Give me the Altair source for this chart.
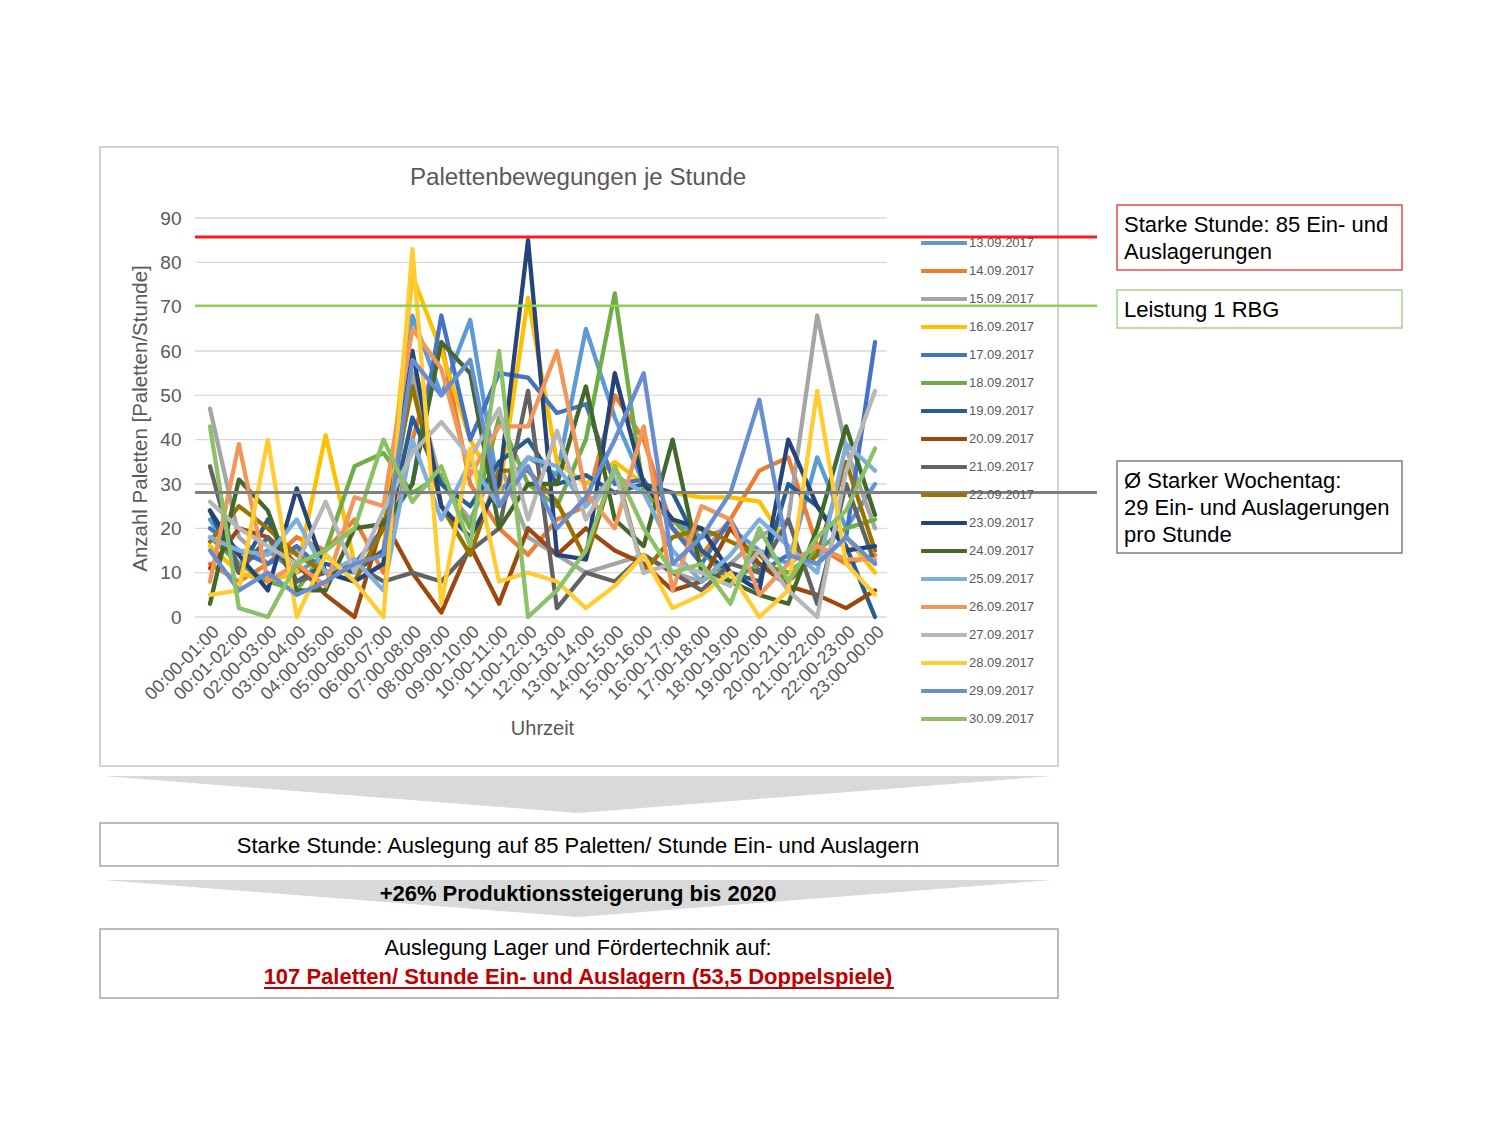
import altair as alt
import pandas as pd

FONT = "Liberation Sans, Arial, sans-serif"
GRAY_TXT = "#595959"

hours = ["00:00-01:00", "00:01-02:00", "02:00-03:00", "03:00-04:00", "04:00-05:00",
         "05:00-06:00", "06:00-07:00", "07:00-08:00", "08:00-09:00", "09:00-10:00",
         "10:00-11:00", "11:00-12:00", "12:00-13:00", "13:00-14:00", "14:00-15:00",
         "15:00-16:00", "16:00-17:00", "17:00-18:00", "18:00-19:00", "19:00-20:00",
         "20:00-21:00", "21:00-22:00", "22:00-23:00", "23:00-00:00"]

dates = ["13.09.2017", "14.09.2017", "15.09.2017", "16.09.2017", "17.09.2017",
         "18.09.2017", "19.09.2017", "20.09.2017", "21.09.2017", "22.09.2017",
         "23.09.2017", "24.09.2017", "25.09.2017", "26.09.2017", "27.09.2017",
         "28.09.2017", "29.09.2017", "30.09.2017"]

colors = ["#5B9BD5", "#ED7D31", "#A5A5A5", "#FFC000", "#4472C4", "#70AD47",
          "#255E91", "#9E480E", "#636363", "#997300", "#264478", "#43682B",
          "#7CAFDD", "#F1975A", "#B7B7B7", "#FFCD33", "#698ED0", "#8CC168"]

s_13 = [22, 12, 15, 10, 14, 8, 12, 68, 50, 67, 28, 36, 32, 65, 45, 30, 22, 18, 20, 15, 12, 36, 20, 30]
s_14 = [12, 8, 12, 18, 15, 22, 10, 40, 62, 30, 20, 14, 22, 25, 50, 40, 20, 14, 22, 33, 36, 16, 12, 14]
s_15 = [47, 18, 12, 15, 10, 8, 12, 55, 30, 22, 35, 18, 14, 10, 12, 14, 10, 8, 12, 18, 22, 68, 38, 20]
s_16 = [16, 10, 8, 10, 41, 12, 15, 77, 60, 40, 28, 72, 35, 30, 35, 30, 28, 27, 27, 26, 16, 12, 18, 10]
s_17 = [20, 15, 12, 16, 10, 12, 20, 30, 68, 40, 55, 54, 46, 48, 30, 31, 20, 12, 22, 10, 14, 12, 18, 62]
s_18 = [18, 12, 8, 6, 15, 34, 37, 28, 32, 20, 45, 30, 25, 40, 73, 28, 22, 15, 8, 12, 10, 15, 20, 22]
s_19 = [24, 10, 22, 8, 12, 10, 15, 45, 30, 25, 35, 40, 30, 32, 28, 30, 28, 15, 10, 8, 30, 25, 16, 0]
s_20 = [11, 20, 18, 12, 5, 0, 22, 10, 1, 16, 3, 20, 14, 20, 15, 12, 6, 8, 20, 12, 7, 5, 2, 6]
s_21 = [34, 10, 18, 8, 10, 12, 8, 10, 8, 15, 20, 51, 2, 10, 8, 14, 10, 6, 12, 10, 22, 3, 30, 12]
s_22 = [17, 25, 20, 14, 10, 8, 20, 52, 25, 14, 33, 33, 26, 13, 34, 10, 18, 20, 17, 14, 8, 14, 35, 15]
s_23 = [24, 14, 6, 29, 10, 8, 12, 60, 25, 18, 30, 85, 14, 13, 55, 30, 22, 20, 10, 6, 40, 25, 15, 16]
s_24 = [3, 31, 24, 6, 6, 20, 21, 30, 62, 55, 20, 30, 30, 52, 22, 16, 40, 10, 8, 5, 3, 20, 43, 23]
s_25 = [18, 15, 14, 22, 10, 13, 6, 40, 22, 35, 25, 36, 34, 25, 32, 28, 15, 8, 14, 22, 16, 10, 39, 33]
s_26 = [8, 39, 8, 12, 7, 27, 25, 65, 56, 32, 43, 43, 60, 28, 20, 43, 6, 25, 22, 5, 12, 16, 13, 13]
s_27 = [26, 20, 16, 12, 26, 10, 24, 37, 44, 36, 47, 22, 42, 22, 33, 10, 12, 10, 7, 15, 6, 0, 33, 51]
s_28 = [5, 6, 40, 0, 14, 8, 0, 83, 3, 38, 8, 10, 8, 2, 7, 14, 2, 5, 10, 0, 6, 51, 12, 5]
s_29 = [15, 6, 10, 5, 8, 12, 14, 58, 50, 58, 25, 34, 20, 27, 40, 55, 12, 18, 28, 49, 14, 12, 18, 12]
s_30 = [43, 2, 0, 12, 15, 20, 40, 26, 34, 16, 60, 0, 6, 15, 34, 20, 10, 12, 3, 20, 8, 18, 24, 38]

series = [s_13, s_14, s_15, s_16, s_17, s_18, s_19, s_20, s_21, s_22, s_23, s_24,
          s_25, s_26, s_27, s_28, s_29, s_30]

ref_values = [85.7, 70.2, 28.1]          # starke Stunde, Leistung 1 RBG, Ø starker Wochentag
grid_values = [0, 10, 20, 30, 40, 50, 60, 70, 80, 90]

title_text = "Palettenbewegungen je Stunde"
y_title = "Anzahl Paletten [Paletten/Stunde]"
x_title = "Uhrzeit"
box_red_lines = ["Starke Stunde: 85 Ein- und", "Auslagerungen"]
box_green_lines = ["Leistung 1 RBG"]
box_gray_lines = ["Ø Starker Wochentag:", "29 Ein- und Auslagerungen", "pro Stunde"]
step1_text = "Starke Stunde: Auslegung auf 85 Paletten/ Stunde Ein- und Auslagern"
arrow2_text = "+26% Produktionssteigerung bis 2020"
result_line1 = "Auslegung Lager und Fördertechnik auf:"
result_line2 = "107 Paletten/ Stunde Ein- und Auslagern (53,5 Doppelspiele)"

rows = []
for d, vals in zip(dates, series):
    for h, v in zip(hours, vals):
        rows.append({"Uhrzeit": h, "Datum": d, "Wert": v})
df = pd.DataFrame(rows)
grid_df = pd.DataFrame({"Wert": grid_values})

W, H = 1484, 1090
dummy = alt.Data(values=[{"k": 0}])


def box(x1, y1, x2, y2, stroke, sw=1.5, fill="white"):
    return alt.Chart(dummy).mark_rect(fill=fill, stroke=stroke, strokeWidth=sw).encode(
        x=alt.value(x1), x2=alt.value(x2), y=alt.value(y1), y2=alt.value(y2))


def txt(t, x, y, size=22, color="black", align="left", weight="normal"):
    return alt.Chart(dummy).mark_text(text=t, font=FONT, fontSize=size, color=color,
                                      align=align, baseline="middle", fontWeight=weight).encode(
        x=alt.value(x), y=alt.value(y))


def chevron(cx, cy):
    return alt.Chart(dummy).mark_point(shape="M-1,-0.039L1,-0.039L0,0.039Z", size=902500,
                                       filled=True, fill="#d9d9d9", strokeWidth=0, opacity=1).encode(
        x=alt.value(cx), y=alt.value(cy))


frame = box(92, 139, 1050, 758, "#c4c4c4", 1.5, fill="transparent")
title = txt(title_text, 570, 170, size=24.2, color=GRAY_TXT, align="center")

y_axis = alt.Axis(values=grid_values, offset=-187, grid=False, domain=False, ticks=False,
                  zindex=2, labelPadding=14, labelFontSize=19, labelColor=GRAY_TXT, labelFont=FONT,
                  title=y_title, titleFont=FONT, titleFontSize=20.5, titleColor=GRAY_TXT,
                  titleFontWeight="normal", titleX=-55, titleY=410, titleBaseline="middle",
                  titleAlign="center", titleAngle=270)
y_scale = alt.Scale(domain=[0, 90], range=[609, 210])

lines = alt.Chart(df).mark_line(strokeWidth=4.3, strokeJoin="round", strokeCap="round").encode(
    x=alt.X("Uhrzeit:N", sort=hours,
            scale=alt.Scale(domain=hours, range=[202, 867], padding=0),
            axis=alt.Axis(offset=609 - H, labelAngle=-45, labelAlign="right", labelBaseline="middle",
                          labelFontSize=18, labelColor=GRAY_TXT, labelFont=FONT, labelPadding=12,
                          labelOffset=6,
                          labelOverlap=False, labelFlush=False, domain=False, ticks=False, grid=False,
                          zindex=2,
                          title=x_title, titleFont=FONT, titleFontSize=20, titleColor=GRAY_TXT,
                          titleFontWeight="normal", titleX=534, titleY=111, titleBaseline="middle",
                          titleAnchor="start", titleAlign="center")),
    y=alt.Y("Wert:Q", scale=y_scale, axis=y_axis),
    color=alt.Color("Datum:N", sort=dates, scale=alt.Scale(domain=dates, range=colors),
                    legend=alt.Legend(orient="none", legendX=911, legendY=221, title=None,
                                      symbolType="stroke", symbolSize=2100, symbolStrokeWidth=4,
                                      labelFontSize=13, labelColor=GRAY_TXT, labelFont=FONT,
                                      clipHeight=27.8, rowPadding=0, labelOffset=0, padding=0,
                                      symbolLimit=0)),
    detail="Datum:N",
)

grid = alt.Chart(grid_df).mark_rule(color="#d9d9d9", strokeWidth=1.3).encode(
    y=alt.Y("Wert:Q", scale=y_scale, axis=y_axis), x=alt.value(187), x2=alt.value(879))

ref_colors = ["#FF1A1A", "#92D050", "#7F7F7F"]
ref_widths = [3, 2.5, 3]
refs = [alt.Chart(dummy).mark_rule(color=c, strokeWidth=w).encode(
            y=alt.Y(datum=v, scale=y_scale), x=alt.value(187), x2=alt.value(1089))
        for v, c, w in zip(ref_values, ref_colors, ref_widths)]

right = [
    box(1109, 197, 1394, 262, "#E84A4F"),
    txt(box_red_lines[0], 1116, 217), txt(box_red_lines[1], 1116, 244),
    box(1109, 282, 1394, 320, "#A9D18E"),
    txt(box_green_lines[0], 1116, 302),
    box(1109, 453, 1394, 545, "#7F7F7F"),
    txt(box_gray_lines[0], 1116, 473), txt(box_gray_lines[1], 1116, 500), txt(box_gray_lines[2], 1116, 527),
]

bottom = [
    chevron(570, 786.5),
    box(92, 815, 1050, 858, "#A6A6A6"),
    txt(step1_text, 570, 838, size=22, align="center"),
    chevron(570, 890.5),
    txt(arrow2_text, 570, 886, size=22, align="center", weight="bold"),
    box(92, 921, 1050, 990, "#A6A6A6"),
    txt(result_line1, 570, 940, size=21.7, align="center"),
    txt(result_line2, 570, 969, size=22, align="center", color="#C00000", weight="bold"),
    alt.Chart(dummy).mark_rule(color="#C00000", strokeWidth=2).encode(
        x=alt.value(256), x2=alt.value(886), y=alt.value(980)),
]

chart = alt.layer(frame, title, grid, lines, *refs, *right, *bottom).properties(
    width=W, height=H, padding=0, autosize=alt.AutoSizeParams(type="none"),
    background="white"
).configure_view(strokeWidth=0)

chart.save("out.html", embed_options={"renderer": "svg", "actions": False})
